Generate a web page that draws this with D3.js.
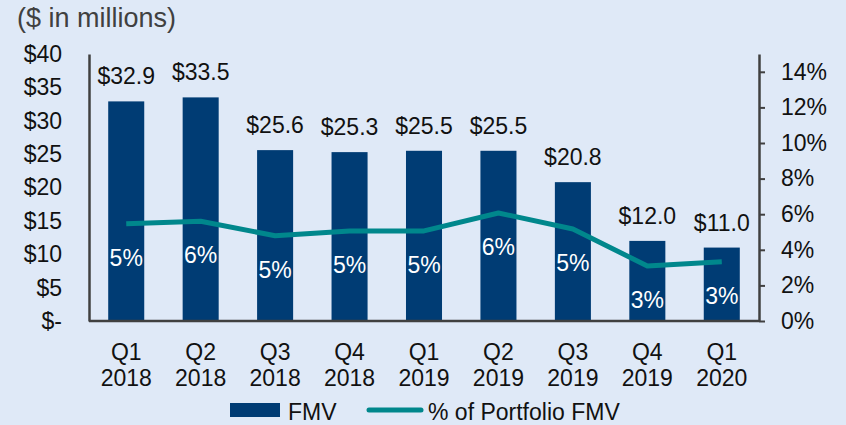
<!DOCTYPE html>
<html>
<head>
<meta charset="utf-8">
<script src="https://cdn.jsdelivr.net/npm/d3@7"></script>
<style>
  body { margin: 0; background: #dfe9f7; }
  svg { display: block; font-family: "Liberation Sans", Arial, sans-serif; }
</style>
</head>
<body>
<div id="chart"></div>
<script>
// chart data
let quarters = ["Q1 2018", "Q2 2018", "Q3 2018", "Q4 2018", "Q1 2019", "Q2 2019", "Q3 2019", "Q4 2019", "Q1 2020"];
let fmv = [32.9, 33.5, 25.6, 25.3, 25.5, 25.5, 20.8, 12.0, 11.0];
let pctFmv = [0.0547, 0.056, 0.0479, 0.0506, 0.0506, 0.0607, 0.0517, 0.0309, 0.0333];
let pctLabels = ["5%", "6%", "5%", "5%", "5%", "6%", "5%", "3%", "3%"];
let leftTicks = [0, 5, 10, 15, 20, 25, 30, 35, 40];
let rightTicks = [0, 0.02, 0.04, 0.06, 0.08, 0.10, 0.12, 0.14];

let svgWidth = 846;
let svgHeight = 425;

let margin = { top: 54, right: 87, bottom: 104, left: 89 };
let plotRight = svgWidth - margin.right;
let plotBottom = svgHeight - margin.bottom;

let barColor = "#003c74";
let lineColor = "#00878c";
let axisColor = "#404040";

let svg = d3.select("#chart")
    .append("svg")
    .attr("width", svgWidth)
    .attr("height", svgHeight);

svg.append("rect")
    .attr("width", svgWidth)
    .attr("height", svgHeight)
    .attr("fill", "#dfe9f7");

let x = d3.scaleBand()
    .domain(quarters)
    .range([margin.left, plotRight])
    .paddingInner(0.516)
    .paddingOuter(0.258);

let y = d3.scaleLinear()
    .domain([0, 40])
    .range([plotBottom, margin.top]);

let yRight = d3.scaleLinear()
    .domain([0, 0.15])
    .range([plotBottom, margin.top]);

// title
svg.append("text")
    .attr("x", 17)
    .attr("y", 27)
    .attr("font-size", "27px")
    .attr("fill", "#404040")
    .text("($ in millions)");

// bars
svg.selectAll(".bar")
    .data(fmv)
    .enter()
    .append("rect")
    .attr("class", "bar")
    .attr("x", (d, i) => x(quarters[i]))
    .attr("y", d => y(d))
    .attr("width", x.bandwidth())
    .attr("height", d => plotBottom - y(d))
    .attr("fill", barColor);

// value labels above bars
svg.selectAll(".vLabel")
    .data(fmv)
    .enter()
    .append("text")
    .attr("class", "vLabel")
    .attr("x", (d, i) => x(quarters[i]) + x.bandwidth() / 2)
    .attr("y", d => y(d) - 17)
    .attr("text-anchor", "middle")
    .attr("font-size", "23px")
    .attr("fill", "#111")
    .text(d => "$" + d.toFixed(1));

// left axis
let leftAxis = d3.axisLeft(y)
    .tickValues(leftTicks)
    .tickSize(0)
    .tickSizeOuter(0)
    .tickPadding(27)
    .tickFormat(d => d === 0 ? "$-" : "$" + d);

let gLeft = svg.append("g")
    .attr("transform", `translate(${margin.left}, 0)`)
    .call(leftAxis);

// right axis
let rightAxis = d3.axisRight(yRight)
    .tickValues(rightTicks)
    .tickSize(6)
    .tickSizeOuter(0)
    .tickPadding(16)
    .tickFormat(d3.format(".0%"));

let gRight = svg.append("g")
    .attr("transform", `translate(${plotRight}, 0)`)
    .call(rightAxis);

// bottom axis
let bottomAxis = d3.axisBottom(x)
    .tickSize(0)
    .tickSizeOuter(0)
    .tickFormat("");

let gBottom = svg.append("g")
    .attr("transform", `translate(0, ${plotBottom})`)
    .call(bottomAxis);

gBottom.select(".domain").attr("d", `M${margin.left},0H${plotRight}`);

[gLeft, gRight, gBottom].forEach(g => {
    g.select(".domain").attr("stroke", axisColor).attr("stroke-width", 2.5);
    g.selectAll(".tick line").attr("stroke", axisColor).attr("stroke-width", 2);
    g.selectAll("text")
        .attr("font-family", "Liberation Sans, Arial, sans-serif")
        .attr("font-size", "23px")
        .attr("fill", "#111");
});

// multi-line category labels
let catLabels = svg.selectAll(".catLabel")
    .data(quarters)
    .enter()
    .append("text")
    .attr("class", "catLabel")
    .attr("x", d => x(d) + x.bandwidth() / 2)
    .attr("y", plotBottom + 39)
    .attr("text-anchor", "middle")
    .attr("font-size", "23px")
    .attr("fill", "#111");

catLabels.append("tspan")
    .attr("x", d => x(d) + x.bandwidth() / 2)
    .text(d => d.split(" ")[0]);

catLabels.append("tspan")
    .attr("x", d => x(d) + x.bandwidth() / 2)
    .attr("dy", 26)
    .text(d => d.split(" ")[1]);

// percentage line
let line = d3.line()
    .x((d, i) => x(quarters[i]) + x.bandwidth() / 2)
    .y(d => yRight(d));

svg.append("path")
    .datum(pctFmv)
    .attr("d", line)
    .attr("fill", "none")
    .attr("stroke", lineColor)
    .attr("stroke-width", 5)
    .attr("stroke-linejoin", "round");

// percentage labels
svg.selectAll(".pLabel")
    .data(pctFmv)
    .enter()
    .append("text")
    .attr("class", "pLabel")
    .attr("x", (d, i) => x(quarters[i]) + x.bandwidth() / 2)
    .attr("y", d => yRight(d) + 42)
    .attr("text-anchor", "middle")
    .attr("font-size", "23px")
    .attr("fill", "#fff")
    .text((d, i) => pctLabels[i]);

// legend
let legend = svg.append("g");

legend.append("rect")
    .attr("x", 230)
    .attr("y", 403)
    .attr("width", 50)
    .attr("height", 14)
    .attr("fill", barColor);

legend.append("text")
    .attr("x", 288)
    .attr("y", 420)
    .attr("font-size", "23px")
    .attr("fill", "#111")
    .text("FMV");

legend.append("line")
    .attr("x1", 369)
    .attr("x2", 421)
    .attr("y1", 410)
    .attr("y2", 410)
    .attr("stroke", lineColor)
    .attr("stroke-width", 5)
    .attr("stroke-linecap", "round");

legend.append("text")
    .attr("x", 428)
    .attr("y", 420)
    .attr("font-size", "23px")
    .attr("fill", "#111")
    .text("% of Portfolio FMV");
</script>
</body>
</html>
